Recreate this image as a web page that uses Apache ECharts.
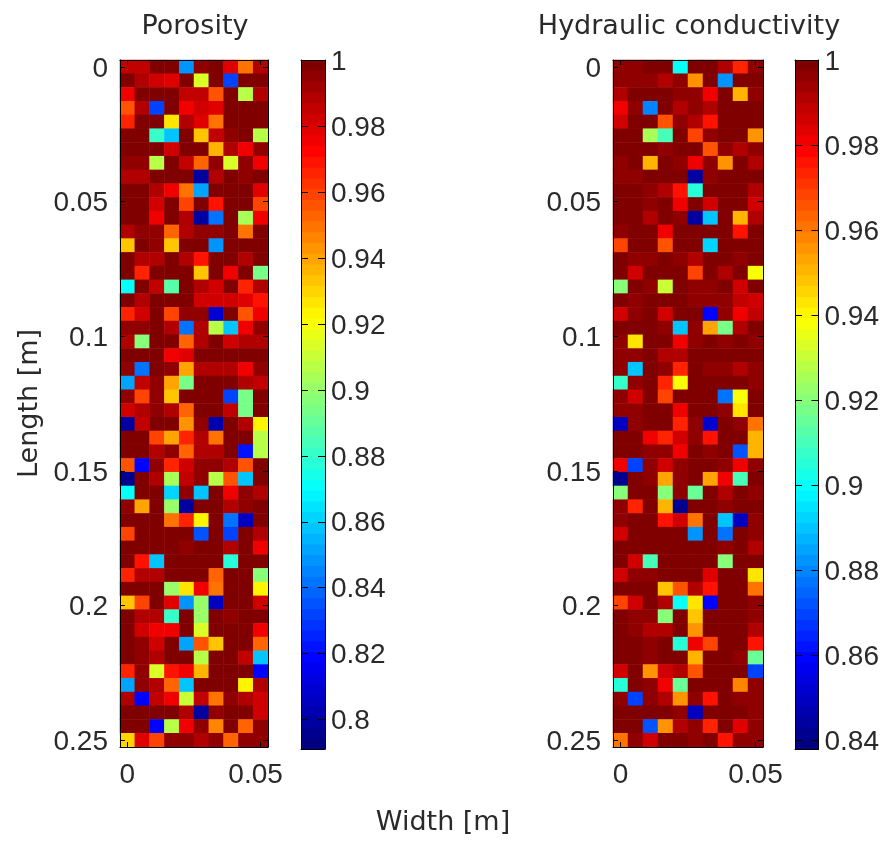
<!DOCTYPE html>
<html>
<head>
<meta charset="utf-8">
<style>html,body{margin:0;padding:0;background:#fff}#c{width:882px;height:843px}</style>
<script src="https://cdn.jsdelivr.net/npm/echarts@6/dist/echarts.min.js"></script>
</head>
<body>
<div id="c"></div>
<script>
const titles = ['Porosity', 'Hydraulic conductivity'];
const xLabel = 'Width [m]';
const yLabel = 'Length [m]';
const lengthTicks = [0, 0.05, 0.1, 0.15, 0.2, 0.25];
const widthTicks = [0, 0.05];
const porosityBarTicks = [0.8, 0.82, 0.84, 0.86, 0.88, 0.9, 0.92, 0.94, 0.96, 0.98, 1];
const conductivityBarTicks = [0.84, 0.86, 0.88, 0.9, 0.92, 0.94, 0.96, 0.98, 1];
const porosityRange = [0.7911, 1];
const conductivityRange = [0.838, 1];
const jetStops = ['#000080','#0000ff','#0080ff','#00ffff','#80ff80','#ffff00','#ff8000','#ff0000','#800000'];

const porosity = [
[.985,.985,1,1,.847,.996,1,.979,.951,.988],
[1,.99,.982,.979,1,.914,1,.831,1,1],
[.974,1,1,1,.985,.985,.957,1,.908,.99],
[.957,.99,.831,1,.976,.982,.979,1,1,1],
[.967,1,1,.926,.99,.979,.948,1,1,1],
[1,1,.88,.857,1,.933,.985,.996,1,.908],
[1,1,1,.982,1,1,.935,.99,.974,.996],
[.996,.996,.907,1,.985,.954,.996,.914,.996,.974],
[.99,.988,1,1,1,.8,.99,1,.996,1],
[1,1,.99,.976,.951,.853,1,1,1,.979],
[1,1,.982,1,.96,1,.97,1,1,.96],
[1,1,.976,1,.988,.8,.841,1,.905,.976],
[.988,.996,.996,.954,.99,.996,.996,1,.951,1],
[.933,1,.996,.933,1,1,.847,1,1,1],
[1,.99,.988,1,.99,.97,1,1,.99,1],
[1,.967,1,1,1,.933,1,.974,1,.893],
[.87,1,.985,.887,1,.99,.982,1,.967,.99],
[1,.99,1,1,1,.982,.982,.982,.979,.97],
[.967,.982,1,.96,.996,.996,.81,1,.957,.976],
[.996,.996,1,.99,.841,.99,.908,.859,.974,.996],
[.99,.896,1,1,.954,.988,1,.982,.99,.99],
[1,1,1,.974,.979,1,1,1,1,1],
[.996,.841,1,.996,.938,.99,.99,.988,.976,.996],
[.85,.985,.996,.938,.893,1,1,1,.99,.985],
[.996,.96,.996,.933,1,1,1,.831,.893,1],
[.982,.988,.996,.99,.954,1,1,.985,.893,1],
[.8,.985,1,1,.942,.996,.804,1,.99,.922],
[1,1,.96,.938,.967,.99,.951,1,1,.908],
[1,1,.99,.996,.954,.99,.99,1,.822,.908],
[.957,.818,.996,.967,.982,.996,.996,.99,.957,1],
[.796,1,.99,.905,.985,.996,.908,.957,.858,1],
[.872,1,1,.862,.996,.858,1,.974,.996,.99],
[.996,.938,1,.902,.798,1,1,.988,.996,1],
[1,1,1,.948,.967,.922,1,.841,.807,1],
[.96,1,1,1,1,.834,1,.831,1,.99],
[1,1,1,1,.996,1,1,.99,1,.976],
[1,.97,.857,1,1,1,1,.877,1,1],
[.967,.99,.99,1,1,1,.954,1,1,.896],
[1,1,1,.902,.927,.976,.951,1,1,.922],
[.933,.96,1,.979,.847,.899,.807,1,1,.982],
[1,.988,.988,.88,1,.902,1,.996,1,1],
[1,.982,.976,.974,1,.914,1,1,1,.976],
[1,.996,.982,1,.85,.957,.933,1,1,.954],
[1,.996,.99,1,1,.908,1,1,.985,.858],
[.967,.996,.914,.97,.976,.935,1,1,1,.818],
[.85,.996,.99,.954,.858,1,1,1,.922,.99],
[.99,.818,.985,.974,.911,.985,.948,.996,.99,.982],
[1,1,1,1,.99,.8,.996,1,1,.982],
[1,1,.818,.908,.976,.996,.945,1,.954,.996],
[.93,.979,.96,.996,.996,.99,.996,.954,.996,.996]
];

const conductivity = [
[.997,.997,1,1,.899,1,1,.992,.974,.997],
[.997,.997,.997,.992,.997,.955,1,.882,1,1],
[.992,1,1,1,.997,.997,.982,1,.95,.997],
[.98,.997,.88,1,.992,.997,.992,1,1,1],
[.987,1,1,.965,.997,.992,.977,1,1,1],
[1,1,.926,.91,1,.969,.995,1,1,.955],
[1,1,1,.997,1,1,.967,.997,.992,.997],
[.997,1,.95,1,.997,.982,.997,.955,1,.992],
[.997,.997,1,1,1,.844,.997,1,1,1],
[1,1,.997,.992,.977,.905,1,1,1,.992],
[1,1,.997,1,.982,1,.987,1,1,.987],
[1,1,.992,1,.997,.844,.89,1,.95,.992],
[.997,1,1,.982,1,1,1,1,.977,1],
[.969,1,1,.965,1,1,.892,1,1,1],
[1,.997,.997,1,.997,.992,1,1,.997,1],
[1,.987,1,1,1,.969,1,.992,1,.937],
[.921,1,.997,.931,1,.997,.997,1,.987,1],
[1,.997,1,1,1,.997,.997,.997,.989,.987],
[.987,.997,1,.987,1,1,.859,.997,.982,.989],
[1,1,1,.997,.89,.997,.952,.917,.992,1],
[.997,.943,1,1,.982,.997,1,.997,1,.997],
[.997,.997,1,.992,.992,1,1,1,1,1],
[.997,.89,1,.997,.974,1,.997,.997,.992,.997],
[.907,.997,1,.974,.938,1,1,1,1,.997],
[.997,.987,1,.969,1,1,1,.877,.938,1],
[.997,.997,1,1,.982,1,1,.997,.943,1],
[.85,.997,1,1,.974,.997,.853,1,.995,.96],
[1,1,.982,.974,.987,.997,.977,1,1,.95],
[1,1,.997,.997,.982,1,.997,1,.871,.95],
[.982,.869,.997,.987,.995,1,1,.997,.982,.997],
[.842,1,.997,.952,.995,1,.952,.982,.91,1],
[.919,1,1,.919,.997,.914,1,.992,1,.997],
[.997,.974,1,.95,.842,1,1,.997,1,1],
[.997,1,1,.977,.987,.96,1,.89,.85,.997],
[.987,1,1,1,1,.882,1,.877,1,.997],
[1,1,1,1,1,1,1,.997,1,.992],
[1,.987,.91,1,1,1,1,.921,1,1],
[.987,.997,.997,1,1,1,.984,1,1,.943],
[1,1,1,.949,.965,.992,.977,1,1,.96],
[.969,.987,1,.992,.899,.943,.859,1,1,.997],
[1,.997,.997,.921,1,.949,1,1,1,.997],
[1,.997,.992,.992,1,.955,1,1,1,.992],
[1,1,.997,1,.905,.982,.969,1,1,.977],
[1,1,.997,1,1,.95,1,1,.997,.914],
[.987,1,.955,.987,.992,.965,1,1,1,.869],
[.905,1,.997,.982,.914,1,1,1,.957,.997],
[.997,.869,.997,.992,.955,.997,.977,1,.997,.997],
[1,1,1,1,.995,.85,1,1,1,.997],
[1,1,.871,.955,.992,.997,.974,1,.984,.997],
[.96,.995,.987,1,1,.997,1,.977,.997,.997]
];

const FONT = '"Liberation Sans", Arial, sans-serif';
const TITLE_FONT = '"DejaVu Sans", sans-serif';
const FS = 28;
const TFS = 27;
const TXT = '#2a2a2a';
const plots = [
  {left: 120, width: 148, barLeft: 301, values: porosity, range: porosityRange, barTicks: porosityBarTicks, maxPad: 10},
  {left: 613, width: 150, barLeft: 795, values: conductivity, range: conductivityRange, barTicks: conductivityBarTicks, maxPad: 0}
];
const TOP = 60, H = 687, BAR_W = 24, BAR_H = 689;
const rows = porosity.length, cols = porosity[0].length;
const dy = 0.25 / (rows - 1) / 2, dx = 0.05 / (cols - 1) / 2;
const line = {lineStyle: {color: '#000', width: 1}};
const lowered = {a: {fontFamily: FONT, fontSize: FS, color: TXT, padding: [4, 0, 0, 0]}};

const grid = [], xAxis = [], yAxis = [], series = [], visualMap = [];
const rowCats = porosity.map((_, i) => String(i));
const colCats = porosity[0].map((_, i) => String(i));

plots.forEach((p, k) => {
  const g = grid.length;
  grid.push({left: p.left, top: TOP, width: p.width, height: H});
  grid.push({left: p.barLeft, top: TOP, width: BAR_W, height: BAR_H});
  const xc = xAxis.length, yc = yAxis.length;
  // category axes that place the cells
  xAxis.push({type: 'category', gridIndex: g, data: colCats, show: false});
  yAxis.push({type: 'category', gridIndex: g, data: rowCats, inverse: true, show: false});
  // value axes that carry the ticks
  const tick = {show: true, inside: true, length: 5, customValues: lengthTicks, lineStyle: {color: '#000'}};
  const xtick = Object.assign({}, tick, {customValues: widthTicks});
  xAxis.push({type: 'value', gridIndex: g, position: 'bottom', min: -dx, max: 0.05 + dx, z: 5,
    axisLine: Object.assign({show: true, onZero: false}, line), axisTick: xtick, splitLine: {show: false},
    axisLabel: {customValues: widthTicks, fontFamily: FONT, fontSize: FS, color: TXT, margin: 14,
      formatter: v => v === 0 ? '{a|0}' : '{b|0.05}', rich: {a: {fontFamily: FONT, fontSize: FS, color: TXT}, b: {fontFamily: FONT, fontSize: FS, color: TXT, padding: [0, p.maxPad, 0, 0]}}}});
  xAxis.push({type: 'value', gridIndex: g, position: 'top', min: -dx, max: 0.05 + dx, z: 5,
    axisLine: Object.assign({show: true, onZero: false}, line), axisTick: xtick, axisLabel: {show: false}, splitLine: {show: false}});
  const yLeft = {type: 'value', gridIndex: g, position: 'left', inverse: true, min: -dy, max: 0.25 + dy, z: 5,
    axisLine: Object.assign({show: true, onZero: false}, line), axisTick: tick, splitLine: {show: false},
    axisLabel: {customValues: lengthTicks, fontFamily: FONT, fontSize: FS, color: TXT, margin: 12, formatter: v => '{a|' + v + '}', rich: lowered}};
  if (k === 0) {
    yLeft.name = yLabel; yLeft.nameLocation = 'middle'; yLeft.nameGap = 77;
    yLeft.nameTextStyle = {fontFamily: TITLE_FONT, fontSize: TFS, color: TXT};
  }
  yAxis.push(yLeft);
  yAxis.push({type: 'value', gridIndex: g, position: 'right', inverse: true, min: -dy, max: 0.25 + dy, z: 5,
    axisLine: Object.assign({show: true, onZero: false}, line), axisTick: tick, axisLabel: {show: false}, splitLine: {show: false}});

  // colourbar frame and ticks
  const bt = Object.assign({}, tick, {customValues: p.barTicks});
  xAxis.push({type: 'value', gridIndex: g + 1, position: 'bottom', min: 0, max: 1, show: true, z: 5,
    axisLine: Object.assign({show: true, onZero: false}, line), axisTick: {show: false}, axisLabel: {show: false}, splitLine: {show: false}});
  xAxis.push({type: 'value', gridIndex: g + 1, position: 'top', min: 0, max: 1, show: true, z: 5,
    axisLine: Object.assign({show: true, onZero: false}, line), axisTick: {show: false}, axisLabel: {show: false}, splitLine: {show: false}});
  yAxis.push({type: 'value', gridIndex: g + 1, position: 'right', min: p.range[0], max: p.range[1], z: 5,
    axisLine: Object.assign({show: true, onZero: false}, line), axisTick: Object.assign({}, bt, {length: 7}), splitLine: {show: false},
    axisLabel: {customValues: p.barTicks, fontFamily: FONT, fontSize: FS, color: TXT, margin: 6, formatter: v => '{a|' + v + '}', rich: lowered, showMinLabel: true, showMaxLabel: true}});
  yAxis.push({type: 'value', gridIndex: g + 1, position: 'left', min: p.range[0], max: p.range[1], z: 5,
    axisLine: Object.assign({show: true, onZero: false}, line), axisTick: Object.assign({}, bt, {length: 7}), axisLabel: {show: false}, splitLine: {show: false}});

  const data = [];
  p.values.forEach((row, r) => row.forEach((v, c) => data.push([c, r, v])));
  series.push({type: 'heatmap', xAxisIndex: xc, yAxisIndex: yc, data, silent: true, progressive: 0, animation: false,
    itemStyle: {borderWidth: 0}, emphasis: {disabled: true}, z: 2});
  visualMap.push({type: 'piecewise', seriesIndex: k, dimension: 2, min: p.range[0], max: p.range[1], splitNumber: 64, precision: 6,
    orient: 'vertical', left: p.barLeft, top: TOP, itemWidth: BAR_W, itemHeight: BAR_H / 64 + 1, itemGap: -1, padding: 0,
    showLabel: false, selectedMode: false, hoverLink: false, itemSymbol: 'rect', inRange: {color: jetStops}, z: 3});
});

const chart = echarts.init(document.getElementById('c'), null, {renderer: 'canvas'});
chart.setOption({
  animation: false,
  backgroundColor: '#fff',
  title: [
    {text: titles[0], left: 195, top: 13, padding: 0, textAlign: 'center', textStyle: {fontFamily: TITLE_FONT, fontSize: TFS, fontWeight: 'normal', color: TXT}},
    {text: titles[1], left: 689, top: 13, padding: 0, textAlign: 'center', textStyle: {fontFamily: TITLE_FONT, fontSize: TFS, fontWeight: 'normal', color: TXT}},
    {text: xLabel, left: 443, top: 809, padding: 0, textAlign: 'center', textStyle: {fontFamily: TITLE_FONT, fontSize: TFS, fontWeight: 'normal', color: TXT}}
  ],
  grid, xAxis, yAxis, series, visualMap
});
</script>
</body>
</html>
